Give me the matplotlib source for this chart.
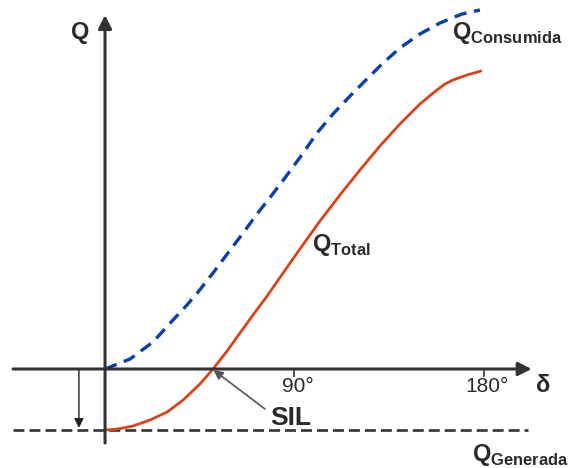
import numpy as np
import matplotlib
matplotlib.use('Agg')
import matplotlib.pyplot as plt

plt.rcParams['font.family'] = ['Liberation Sans', 'DejaVu Sans']
plt.rcParams['mathtext.fontset'] = 'custom'
plt.rcParams['mathtext.rm'] = 'Liberation Sans'
plt.rcParams['mathtext.bf'] = 'Liberation Sans:bold'
plt.rcParams['lines.scale_dashes'] = False

# curvas (delta en grados, Q en unidades arbitrarias)
delta_cons = [0, 11.9, 22.8, 32.3, 38.5, 44.2, 51.3, 58.4, 65.6, 72.2, 79.3,
              86.5, 93.1, 100.7, 108.3, 116.4, 124.4, 132.1, 140.1, 149.6,
              159.1, 169.6, 178.1]
q_cons = [0, 0.10, 0.27, 0.49, 0.63, 0.77, 0.96, 1.16, 1.36, 1.55, 1.74,
          1.94, 2.13, 2.36, 2.55, 2.73, 2.90, 3.06, 3.21, 3.35,
          3.46, 3.55, 3.59]

delta_tot = [0, 4.3, 8.6, 13.3, 21.4, 29.5, 37.1, 45.1, 51.3, 58.0, 64.1,
             70.3, 77.0, 84.6, 92.6, 102.1, 111.6, 121.1, 130.6, 140.1,
             149.6, 157.7, 161.5, 165.3, 172.0, 178.6]
q_tot = [-0.61, -0.605, -0.59, -0.57, -0.51, -0.43, -0.31, -0.15, 0.0, 0.18,
         0.36, 0.54, 0.73, 0.96, 1.20, 1.48, 1.74, 1.99, 2.23, 2.45,
         2.65, 2.79, 2.85, 2.89, 2.94, 2.98]

q_gen = -0.61
ticks = [90, 180]
tick_labels = ['90°', '180°']

axis_col = '#333333'
txt_col = '#2a2a2a'

fig = plt.figure(figsize=(5.78, 4.68), dpi=100)
ax = fig.add_axes([0, 0, 1, 1])
ax.set_xlim(-49.9, 224.7)
ax.set_ylim(-0.99, 3.69)
ax.axis('off')

# ejes con flecha
ax.annotate('', xy=(202.7, 0), xytext=(-43.7, 0),
            arrowprops=dict(arrowstyle='-|>', lw=2.2, color=axis_col,
                            mutation_scale=20, shrinkA=0, shrinkB=0))
ax.annotate('', xy=(0, 3.54), xytext=(0, -0.74),
            arrowprops=dict(arrowstyle='-|>', lw=2.2, color=axis_col,
                            mutation_scale=20, shrinkA=0, shrinkB=0))

for t, lab in zip(ticks, tick_labels):
    ax.plot([t, t], [0, -0.065], color=axis_col, lw=1.2)
    ax.text(t + 1.5, -0.17, lab, fontsize=15, color=txt_col, ha='center', va='center')

# Q generada
ax.plot([-43.7, 201], [q_gen, q_gen], color=axis_col, lw=1.9, dashes=(7.9, 3.6))

# curvas
ax.plot(delta_cons, q_cons, color='#0a3fa5', lw=2.4, dashes=(9, 5.5))
ax.plot(delta_tot, q_tot, color='#d8431a', lw=2.0, solid_capstyle='round',
        solid_joinstyle='round')

# flecha pequeña
ax.annotate('', xy=(-12.4, q_gen + 0.02), xytext=(-12.4, 0),
            arrowprops=dict(arrowstyle='-|>', lw=1.0, color='#222222',
                            mutation_scale=14, shrinkA=0, shrinkB=0))

# SIL
ax.annotate('', xy=(51.5, -0.01), xytext=(76.0, -0.40),
            arrowprops=dict(arrowstyle='-|>', lw=1.2, color='#555555',
                            mutation_scale=14, shrinkA=0, shrinkB=0))
ax.text(88.3, -0.49, 'SIL', fontsize=19, fontweight='bold', color=txt_col,
        ha='center', va='center')

ax.text(-11.9, 3.36, 'Q', fontsize=17, fontweight='bold', color=txt_col,
        ha='center', va='center')
ax.text(208.0, -0.16, 'δ', fontsize=17, fontweight='bold', color=txt_col,
        ha='center', va='center')

ax.text(164.8, 3.36, r'$\mathbf{Q}_{\mathbf{Consumida}}$', fontsize=17,
        color=txt_col, ha='left', va='center')
ax.text(98.3, 1.24, r'$\mathbf{Q}_{\mathbf{Total}}$', fontsize=17,
        color=txt_col, ha='left', va='center')
ax.text(174.3, -0.86, r'$\mathbf{Q}_{\mathbf{Generada}}$', fontsize=17,
        color=txt_col, ha='left', va='center')

fig.savefig('out.png', dpi=100)
